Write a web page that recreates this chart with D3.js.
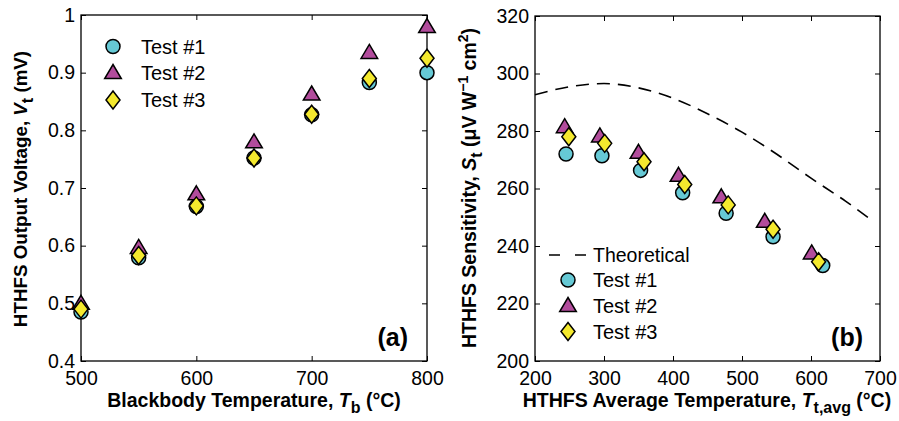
<!DOCTYPE html>
<html>
<head>
<meta charset="utf-8">
<script src="https://cdn.jsdelivr.net/npm/d3@7"></script>
<style>
  body { margin: 0; background: #fff; }
  svg { font-family: Arial, "Liberation Sans", sans-serif; }
</style>
</head>
<body>
<svg id="chart" width="899" height="421"></svg>
<script>
// ---- panel (a): output voltage vs blackbody temperature
let tempA = [500, 550, 600, 650, 700, 750, 800];
let test1A = [0.485, 0.579, 0.668, 0.752, 0.827, 0.883, 0.900];
let test2A = [0.500, 0.597, 0.690, 0.780, 0.863, 0.935, 0.980];
let test3A = [0.490, 0.583, 0.669, 0.752, 0.828, 0.890, 0.925];
let xTicksA = [500, 600, 700, 800];
let yTicksA = [0.4, 0.5, 0.6, 0.7, 0.8, 0.9, 1];

// ---- panel (b): sensitivity vs average temperature
let test1Bx = [245, 297, 353, 414, 477, 545, 617];
let test1By = [272, 271.4, 266.3, 258.5, 251.4, 243.2, 233.2];
let test2Bx = [243, 294, 350, 408, 470, 533, 601];
let test2By = [281.5, 278.3, 272.6, 264.6, 257.1, 248.6, 237.6];
let test3Bx = [249, 301, 358, 417, 480, 545, 611];
let test3By = [278, 275.7, 269.3, 261.4, 254.3, 245.8, 234.5];
let theoX = [200, 250, 300, 350, 400, 450, 500, 550, 600, 650, 690];
let theoY = [292.6, 295.4, 296.5, 295.0, 291.4, 286.0, 279.6, 272.0, 263.6, 255.6, 248.6];
let xTicksB = [200, 300, 400, 500, 600, 700];
let yTicksB = [200, 220, 240, 260, 280, 300, 320];

let seriesNames = ["Test #1", "Test #2", "Test #3"];
let fills = ["#66C9D5", "#B24C9C", "#F4E92E"];

// marker shapes
let circleSym = { draw(ctx) { ctx.moveTo(7, 0); ctx.arc(0, 0, 7, 0, 2 * Math.PI); } };
let triSym = { draw(ctx) { ctx.moveTo(0, -8); ctx.lineTo(8.3, 6); ctx.lineTo(-8.3, 6); ctx.closePath(); } };
let diaSym = { draw(ctx) { ctx.moveTo(0, -9); ctx.lineTo(7, 0); ctx.lineTo(0, 9); ctx.lineTo(-7, 0); ctx.closePath(); } };
let shapes = [circleSym, triSym, diaSym];

let svg = d3.select("#chart");

function drawPanel(opts) {
  let x = d3.scaleLinear().domain(opts.xDomain).range([opts.left, opts.right]);
  let y = d3.scaleLinear().domain(opts.yDomain).range([opts.bottom, opts.top]);
  let g = svg.append("g");

  // ticks on all four sides, pointing inward
  g.append("g").attr("transform", "translate(0," + opts.bottom + ")")
    .call(d3.axisBottom(x).tickValues(opts.xTicks).tickSize(-5).tickPadding(10).tickFormat(d3.format("")))
    .call(a => a.select(".domain").remove());
  g.append("g").attr("transform", "translate(0," + opts.top + ")")
    .call(d3.axisTop(x).tickValues(opts.xTicks).tickSize(-5).tickFormat(""))
    .call(a => a.select(".domain").remove());
  g.append("g").attr("transform", "translate(" + opts.left + ",0)")
    .call(d3.axisLeft(y).tickValues(opts.yTicks).tickSize(-5).tickPadding(6).tickFormat(opts.yFormat))
    .call(a => a.select(".domain").remove());
  g.append("g").attr("transform", "translate(" + opts.right + ",0)")
    .call(d3.axisRight(y).tickValues(opts.yTicks).tickSize(-5).tickFormat(""))
    .call(a => a.select(".domain").remove());

  g.selectAll(".tick line").attr("stroke", "#000").attr("stroke-width", 1);
  g.selectAll(".tick text").attr("font-size", 19.5).attr("fill", "#000")
    .attr("font-family", "Arial, 'Liberation Sans', sans-serif");

  g.append("rect")
    .attr("x", opts.left).attr("y", opts.top)
    .attr("width", opts.right - opts.left).attr("height", opts.bottom - opts.top)
    .attr("fill", "none").attr("stroke", "#000").attr("stroke-width", 1.3);

  return { g: g, x: x, y: y };
}

function drawMarkers(p, xs, ys, k) {
  p.g.append("g").selectAll("path")
    .data(xs.map((d, i) => [d, ys[i]]))
    .enter().append("path")
    .attr("d", d3.symbol().type(shapes[k]))
    .attr("transform", d => "translate(" + p.x(d[0]) + "," + p.y(d[1]) + ")")
    .attr("fill", fills[k])
    .attr("stroke", "#000")
    .attr("stroke-width", 1.5);
}

function legendMarker(g, cx, cy, k) {
  g.append("path")
    .attr("d", d3.symbol().type(shapes[k]))
    .attr("transform", "translate(" + cx + "," + cy + ")")
    .attr("fill", fills[k]).attr("stroke", "#000").attr("stroke-width", 1.5);
}

// ---------- panel (a)
let pa = drawPanel({
  left: 81, right: 427, top: 15, bottom: 361,
  xDomain: [500, 800], yDomain: [0.4, 1],
  xTicks: xTicksA, yTicks: yTicksA,
  yFormat: d => d === 1 ? "1" : d3.format(".1f")(d)
});
drawMarkers(pa, tempA, test1A, 0);
drawMarkers(pa, tempA, test2A, 1);
drawMarkers(pa, tempA, test3A, 2);

[46.5, 72.5, 100].forEach((yy, k) => {
  legendMarker(pa.g, 113, yy, k);
  pa.g.append("text").attr("x", 141).attr("y", yy + 7)
    .attr("font-size", 20).text(seriesNames[k]);
});

pa.g.append("text").attr("x", 408).attr("y", 346).attr("text-anchor", "end")
  .attr("font-size", 25).attr("font-weight", "bold").text("(a)");

let xtA = pa.g.append("text").attr("x", 254).attr("y", 407).attr("text-anchor", "middle")
  .attr("font-size", 19.5).attr("font-weight", "bold");
xtA.append("tspan").text("Blackbody Temperature, ");
xtA.append("tspan").attr("font-style", "italic").text("T");
xtA.append("tspan").attr("dy", 6).attr("font-size", 16).text("b");
xtA.append("tspan").attr("dy", -6).text(" (\u00B0C)");

let ytA = pa.g.append("text").attr("transform", "translate(27,189) rotate(-90)")
  .attr("text-anchor", "middle").attr("font-size", 18.8).attr("font-weight", "bold");
ytA.append("tspan").text("HTHFS Output Voltage, ");
ytA.append("tspan").attr("font-style", "italic").text("V");
ytA.append("tspan").attr("dy", 6).attr("font-size", 16).text("t");
ytA.append("tspan").attr("dy", -6).text(" (mV)");

// ---------- panel (b)
let pb = drawPanel({
  left: 535, right: 880, top: 16, bottom: 361,
  xDomain: [200, 700], yDomain: [200, 320],
  xTicks: xTicksB, yTicks: yTicksB,
  yFormat: d3.format("")
});

let line = d3.line().curve(d3.curveMonotoneX)
  .x(d => pb.x(d[0])).y(d => pb.y(d[1]));
pb.g.append("path")
  .datum(theoX.map((d, i) => [d, theoY[i]]))
  .attr("d", line)
  .attr("fill", "none").attr("stroke", "#000").attr("stroke-width", 1.6)
  .attr("stroke-dasharray", "13,8");

drawMarkers(pb, test1Bx, test1By, 0);
drawMarkers(pb, test2Bx, test2By, 1);
drawMarkers(pb, test3Bx, test3By, 2);

pb.g.append("line").attr("x1", 549).attr("x2", 586).attr("y1", 255).attr("y2", 255)
  .attr("stroke", "#000").attr("stroke-width", 1.6).attr("stroke-dasharray", "11,15");
pb.g.append("text").attr("x", 593).attr("y", 262).attr("font-size", 19.5).text("Theoretical");
[280, 305.5, 331.5].forEach((yy, k) => {
  legendMarker(pb.g, 568, yy, k);
  pb.g.append("text").attr("x", 593).attr("y", yy + 7)
    .attr("font-size", 20).text(seriesNames[k]);
});

pb.g.append("text").attr("x", 863).attr("y", 346).attr("text-anchor", "end")
  .attr("font-size", 25).attr("font-weight", "bold").text("(b)");

let xtB = pb.g.append("text").attr("x", 707).attr("y", 407).attr("text-anchor", "middle")
  .attr("font-size", 19.5).attr("font-weight", "bold");
xtB.append("tspan").text("HTHFS Average Temperature, ");
xtB.append("tspan").attr("font-style", "italic").text("T");
xtB.append("tspan").attr("dy", 6).attr("font-size", 16).text("t,avg");
xtB.append("tspan").attr("dy", -6).text(" (\u00B0C)");

let ytB = pb.g.append("text").attr("transform", "translate(476,188) rotate(-90)")
  .attr("text-anchor", "middle").attr("font-size", 19.5).attr("font-weight", "bold");
ytB.append("tspan").text("HTHFS Sensitivity, ");
ytB.append("tspan").attr("font-style", "italic").text("S");
ytB.append("tspan").attr("dy", 6).attr("font-size", 16).text("t");
ytB.append("tspan").attr("dy", -6).text(" (\u03BCV W");
ytB.append("tspan").attr("dy", -8).attr("font-size", 14).text("\u22121");
ytB.append("tspan").attr("dy", 8).text(" cm");
ytB.append("tspan").attr("dy", -8).attr("font-size", 14).text("2");
ytB.append("tspan").attr("dy", 8).text(")");
</script>
</body>
</html>
